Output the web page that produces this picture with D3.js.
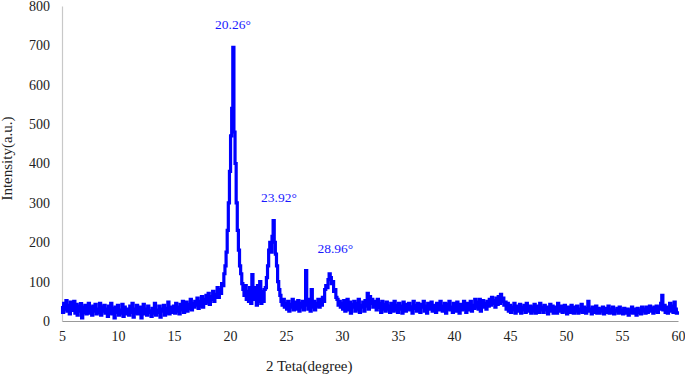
<!DOCTYPE html>
<html lang="en">
<head>
    <meta charset="UTF-8">
    <title>XRD pattern</title>
    <script src="https://d3js.org/d3.v7.min.js"></script>
    <style>
        body { margin: 0; background: #fff; }
        text { font-family: "Liberation Serif", "Times New Roman", serif; }
    </style>
</head>
<body>
    <div id="chart-container"></div>

    <script>
        // 2θ from 5 to 60 degrees, one reading every 0.1 degree
        const thetaStart = 5;
        const thetaStep = 0.1;

        // intensities, one row per degree
        const intensity = [
            38,22,45,30,52,25,40,18,48,33,   // 5
            27,50,20,42,15,38,25,44,8,35,    // 6
            22,40,18,30,45,20,35,15,38,25,   // 7
            42,18,30,22,45,15,36,25,40,20,   // 8
            30,12,38,20,45,18,32,8,35,22,    // 9
            40,15,28,20,42,12,35,18,30,25,   // 10
            15,38,22,45,10,30,20,40,18,28,   // 11
            35,8,25,42,18,30,15,38,22,26,    // 12
            12,32,20,45,15,28,22,38,10,30,   // 13
            25,40,15,32,20,48,18,35,22,30,   // 14
            38,20,45,25,35,18,42,28,50,22,   // 15
            30,48,25,42,32,55,28,45,35,50,   // 16
            40,58,32,50,38,62,35,55,45,65,   // 17
            48,70,42,62,55,75,50,68,60,85,   // 18
            60,80,70,95,90,120,140,175,230,300,   // 19
            380,470,540,695,480,400,300,230,180,140, // 20
            120,95,80,65,90,55,75,50,85,45,  // 21
            118,55,85,60,40,90,50,100,45,75, // 22
            50,80,85,110,140,180,200,175,215,255, // 23
            200,170,140,100,80,65,50,40,55,35,    // 24
            45,30,50,25,42,35,55,28,48,38,   // 25
            30,52,25,45,35,50,28,45,128,40,  // 26
            30,55,25,80,35,50,28,45,38,55,   // 27
            35,55,40,60,50,80,90,85,105,120, // 28
            110,95,100,75,80,60,55,40,50,35, // 29
            45,30,52,25,40,55,28,48,20,42,   // 30
            35,50,25,45,30,55,22,40,35,48,   // 31
            25,52,38,70,30,62,45,55,35,50,   // 32
            40,28,55,35,45,22,50,30,42,25,   // 33
            48,30,38,22,45,35,25,50,28,40,   // 34
            22,45,30,38,20,48,35,25,42,30,   // 35
            45,28,36,20,50,32,40,25,45,30,   // 36
            22,42,35,50,25,38,20,45,30,36,   // 37
            48,25,40,30,22,45,35,28,50,30,   // 38
            25,38,45,20,42,30,50,28,35,22,   // 39
            45,30,25,48,35,20,42,28,38,50,   // 40
            30,22,45,35,28,50,25,40,32,55,   // 41
            35,48,30,55,25,40,52,35,45,30,   // 42
            50,38,55,40,60,45,52,35,58,42,   // 43
            62,45,68,50,58,40,48,30,45,25,   // 44
            40,22,35,28,45,20,38,30,25,42,   // 45
            20,35,28,40,22,45,30,25,38,20,   // 46
            35,25,42,20,30,38,22,45,28,35,   // 47
            22,40,28,35,18,30,42,25,38,20,   // 48
            35,28,20,45,30,25,38,22,32,40,   // 49
            25,18,35,28,22,40,30,20,35,25,   // 50
            38,20,30,25,42,22,35,28,20,32,   // 51
            50,25,30,18,35,22,28,38,20,32,   // 52
            20,30,25,35,18,32,22,28,38,20,   // 53
            30,22,35,18,28,25,32,20,35,22,   // 54
            28,18,32,25,20,30,15,28,22,35,   // 55
            20,30,25,15,32,22,28,18,35,25,   // 56
            30,20,35,22,28,38,25,32,20,35,   // 57
            25,38,22,35,30,45,65,28,40,22,   // 58
            35,20,30,45,25,38,22,48,30,20,   // 59
            25                               // 60
        ];

        const xTicks = [5, 10, 15, 20, 25, 30, 35, 40, 45, 50, 55, 60];
        const yTicks = [0, 100, 200, 300, 400, 500, 600, 700, 800];

        const peakAngles = [20.26, 23.92, 28.96];
        const peakLabelLevels = [740, 300, 170];

        const data = intensity.map((v, i) => ({
            theta: thetaStart + i * thetaStep,
            value: v
        }));

        const containerWidth = 685;
        const containerHeight = 377;
        const margins = { top: 6, right: 7, bottom: 56, left: 62 };
        const width = containerWidth - margins.left - margins.right;
        const height = containerHeight - margins.top - margins.bottom;

        const svg = d3.select("#chart-container")
            .append("svg")
            .attr("width", containerWidth)
            .attr("height", containerHeight)
            .append("g")
            .attr("transform", `translate(${margins.left},${margins.top})`);

        const x = d3.scaleLinear().domain([5, 60]).range([0, width]);
        const y = d3.scaleLinear().domain([0, 800]).range([height, 0]);

        // y axis
        const yAxis = svg.append("g")
            .call(d3.axisLeft(y).tickValues(yTicks).tickSize(0).tickPadding(12));
        yAxis.select(".domain").attr("stroke", "#c8c8c8").attr("stroke-width", 1.2);
        yAxis.selectAll("text").attr("font-size", 14).attr("fill", "#222");

        // x axis
        const xAxis = svg.append("g")
            .attr("transform", `translate(0, ${height})`)
            .call(d3.axisBottom(x).tickValues(xTicks).tickSize(0).tickPadding(10));
        xAxis.select(".domain").attr("stroke", "#999").attr("stroke-width", 1.2);
        xAxis.selectAll("text").attr("font-size", 14).attr("fill", "#222");

        // axis titles
        svg.append("text")
            .attr("x", -height / 2 + 5)
            .attr("y", -50)
            .attr("transform", "rotate(-90)")
            .attr("text-anchor", "middle")
            .attr("font-size", 15)
            .attr("fill", "#222")
            .text("Intensity(a.u.)");

        svg.append("text")
            .attr("x", x(28.5) - 16)
            .attr("y", height + 50)
            .attr("text-anchor", "middle")
            .attr("font-size", 15)
            .attr("fill", "#222")
            .text("2 Teta(degree)");

        // pattern, drawn as steps like the instrument trace
        svg.append("path")
            .datum(data)
            .attr("fill", "none")
            .attr("stroke", "#0000ff")
            .attr("stroke-width", 3.2)
            .attr("d", d3.line()
                .curve(d3.curveStep)
                .x(d => x(d.theta))
                .y(d => y(d.value)));

        // peak labels
        svg.selectAll(".peak")
            .data(peakAngles)
            .enter()
            .append("text")
            .attr("class", "peak")
            .attr("x", (d, i) => x(d) + (i === 0 ? 0 : 5))
            .attr("y", (d, i) => y(peakLabelLevels[i]) - 1)
            .attr("text-anchor", "middle")
            .attr("font-size", 13.5)
            .attr("fill", "#1a1aff")
            .text(d => d.toFixed(2) + "°");
    </script>
</body>
</html>
